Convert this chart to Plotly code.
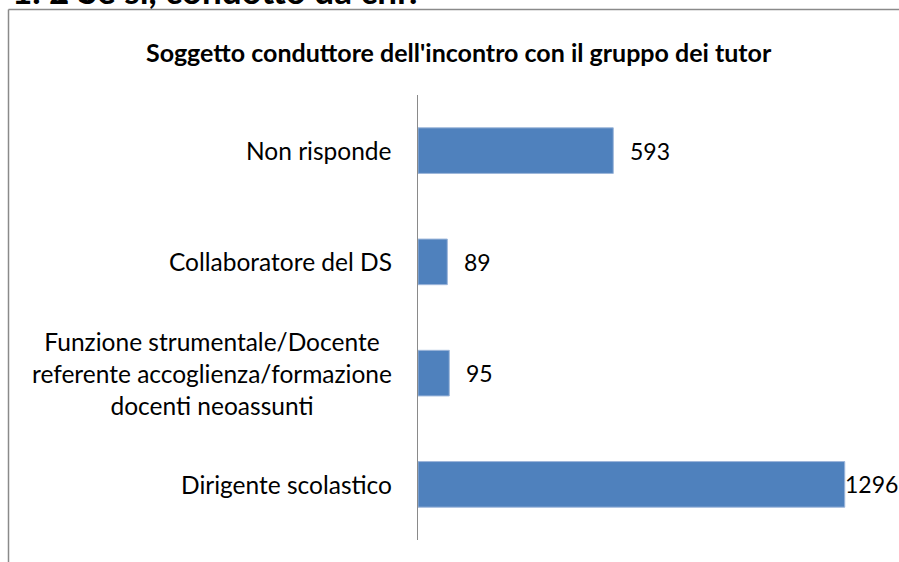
import plotly.graph_objects as go

categories = ["Non risponde", "Collaboratore del DS",
              "Funzione strumentale/Docente<br>referente accoglienza/formazione<br>docenti neoassunti",
              "Dirigente scolastico"]
values = [593, 89, 95, 1296]
chart_title = "Soggetto conduttore dell'incontro con il gruppo dei tutor"
header = "1. 2 Se sì, condotto da chi?"

FONT = "Lato"
BAR = "#4F81BD"
GRAY = "#8a8a8a"

L, R, T, B = 418, 20, 95, 22
W, H = 899, 562
pw, ph = W - L - R, H - T - B

def px2x(px):
    return (px - L) / pw

def py2y(py):
    return (H - B - py) / ph

fig = go.Figure(go.Bar(
    y=categories, x=values, orientation="h",
    marker=dict(color=BAR, line=dict(color="#9db6da", width=1)),
    width=0.41, hoverinfo="x+y",
))

ann = []
vmax = max(values)
for c, v in zip(categories, values):
    ann.append(dict(x=0, y=c, xref="x", yref="y", text=c, showarrow=False,
                    xanchor="right", xshift=-24, align="center",
                    font=dict(family=FONT, size=24.5, color="#000")))
    ann.append(dict(x=v, y=c, xref="x", yref="y", text=str(v), showarrow=False,
                    xanchor="left", xshift=(15 if v < 0.9 * vmax else -2),
                    font=dict(family=FONT, size=23, color="#000")))

ann.append(dict(x=px2x(459), y=py2y(52), xref="paper", yref="paper", text="<b>" + chart_title + "</b>",
                showarrow=False, xanchor="center", yanchor="middle",
                font=dict(family=FONT, size=25, color="#000")))
ann.append(dict(x=px2x(10), y=py2y(8), xref="paper", yref="paper", text="<b>" + header + "</b>",
                showarrow=False, xanchor="left", yanchor="bottom", yshift=-5,
                font=dict(family=FONT, size=35, color="#000")))

shapes = [
    dict(type="line", xref="paper", yref="paper", x0=px2x(8.5), x1=px2x(8.5), y0=py2y(9.5), y1=py2y(562),
         line=dict(color=GRAY, width=1.5)),
    dict(type="line", xref="paper", yref="paper", x0=px2x(8.5), x1=px2x(899), y0=py2y(9.5), y1=py2y(9.5),
         line=dict(color=GRAY, width=1.5)),
]

fig.update_layout(
    width=W, height=H, margin=dict(l=L, r=R, t=T, b=B),
    paper_bgcolor="white", plot_bgcolor="white",
    showlegend=False, annotations=ann, shapes=shapes,
    xaxis=dict(range=[0, 1400], visible=False, fixedrange=True),
    yaxis=dict(autorange="reversed", showticklabels=False, showline=True, linecolor=GRAY,
               linewidth=1, showgrid=False, zeroline=False, ticks="", fixedrange=True),
)

fig.write_html("out.html", config={"displayModeBar": False},
               post_script="document.body.style.margin='0';document.body.style.overflow='hidden';")
